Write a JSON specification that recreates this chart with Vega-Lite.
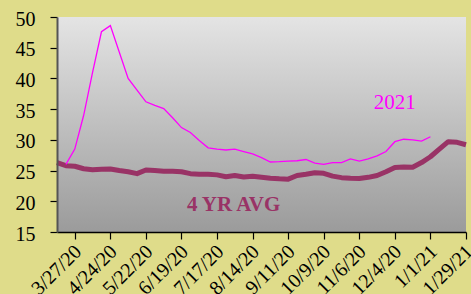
{
  "$schema": "https://vega.github.io/schema/vega-lite/v6.json",
  "width": 409,
  "height": 215,
  "autosize": {"type": "none"},
  "padding": {"left": 57, "top": 17, "right": 5, "bottom": 62},
  "background": "#dfdc8a",
  "config": {
    "view": {"stroke": null},
    "font": "Liberation Serif"
  },
  "data": {
    "values": [
      {"date": "2020-03-13", "avg": 26.3, "y2021": null},
      {"date": "2020-03-20", "avg": 25.8, "y2021": 26.0},
      {"date": "2020-03-27", "avg": 25.7, "y2021": 28.5},
      {"date": "2020-04-03", "avg": 25.3, "y2021": 34.0},
      {"date": "2020-04-10", "avg": 25.15, "y2021": 41.0},
      {"date": "2020-04-17", "avg": 25.2, "y2021": 47.6},
      {"date": "2020-04-24", "avg": 25.25, "y2021": 48.6},
      {"date": "2020-05-01", "avg": 25.0, "y2021": 44.3},
      {"date": "2020-05-08", "avg": 24.8, "y2021": 40.0},
      {"date": "2020-05-15", "avg": 24.5, "y2021": 38.1},
      {"date": "2020-05-22", "avg": 25.1, "y2021": 36.2},
      {"date": "2020-05-29", "avg": 25.0, "y2021": 35.6},
      {"date": "2020-06-05", "avg": 24.9, "y2021": 35.1},
      {"date": "2020-06-12", "avg": 24.9, "y2021": 33.6},
      {"date": "2020-06-19", "avg": 24.8, "y2021": 32.0},
      {"date": "2020-06-26", "avg": 24.5, "y2021": 31.2},
      {"date": "2020-07-03", "avg": 24.4, "y2021": 29.9},
      {"date": "2020-07-10", "avg": 24.4, "y2021": 28.7},
      {"date": "2020-07-17", "avg": 24.3, "y2021": 28.5},
      {"date": "2020-07-24", "avg": 24.0, "y2021": 28.35},
      {"date": "2020-07-31", "avg": 24.2, "y2021": 28.5},
      {"date": "2020-08-07", "avg": 23.95, "y2021": 28.1},
      {"date": "2020-08-14", "avg": 24.07, "y2021": 27.7},
      {"date": "2020-08-21", "avg": 23.9, "y2021": 27.1},
      {"date": "2020-08-28", "avg": 23.75, "y2021": 26.4},
      {"date": "2020-09-04", "avg": 23.65, "y2021": 26.45},
      {"date": "2020-09-11", "avg": 23.6, "y2021": 26.55},
      {"date": "2020-09-18", "avg": 24.2, "y2021": 26.6},
      {"date": "2020-09-25", "avg": 24.4, "y2021": 26.8},
      {"date": "2020-10-02", "avg": 24.65, "y2021": 26.2},
      {"date": "2020-10-09", "avg": 24.55, "y2021": 26.0},
      {"date": "2020-10-16", "avg": 24.1, "y2021": 26.3},
      {"date": "2020-10-23", "avg": 23.85, "y2021": 26.3},
      {"date": "2020-10-30", "avg": 23.75, "y2021": 26.9},
      {"date": "2020-11-06", "avg": 23.7, "y2021": 26.55},
      {"date": "2020-11-13", "avg": 23.9, "y2021": 26.9},
      {"date": "2020-11-20", "avg": 24.2, "y2021": 27.4},
      {"date": "2020-11-27", "avg": 24.8, "y2021": 28.1},
      {"date": "2020-12-04", "avg": 25.5, "y2021": 29.7},
      {"date": "2020-12-11", "avg": 25.6, "y2021": 30.1},
      {"date": "2020-12-18", "avg": 25.55, "y2021": 30.0},
      {"date": "2020-12-25", "avg": 26.3, "y2021": 29.8},
      {"date": "2021-01-01", "avg": 27.25, "y2021": 30.5},
      {"date": "2021-01-08", "avg": 28.5, "y2021": null},
      {"date": "2021-01-15", "avg": 29.7, "y2021": null},
      {"date": "2021-01-22", "avg": 29.6, "y2021": null},
      {"date": "2021-01-29", "avg": 29.2, "y2021": null}
    ]
  },
  "layer": [
    {
      "data": {"values": [{"d1": "2020-03-13", "d2": "2021-01-29", "lo": 15, "hi": 50}]},
      "mark": {
        "type": "rect",
        "fill": {
          "gradient": "linear",
          "x1": 0, "y1": 0, "x2": 0, "y2": 1,
          "stops": [
            {"offset": 0, "color": "#e4e4e4"},
            {"offset": 1, "color": "#9b9b9b"}
          ]
        }
      },
      "encoding": {
        "x": {
          "field": "d1", "type": "temporal",
          "scale": {"type": "utc", "domain": [{"year": 2020, "month": 3, "date": 13, "utc": true}, {"year": 2021, "month": 1, "date": 29, "utc": true}]},
          "axis": {
            "title": null,
            "zindex": 1,
            "tickCount": 40,
            "values": [
              {"year": 2020, "month": 3, "date": 27, "utc": true},
              {"year": 2020, "month": 4, "date": 24, "utc": true},
              {"year": 2020, "month": 5, "date": 22, "utc": true},
              {"year": 2020, "month": 6, "date": 19, "utc": true},
              {"year": 2020, "month": 7, "date": 17, "utc": true},
              {"year": 2020, "month": 8, "date": 14, "utc": true},
              {"year": 2020, "month": 9, "date": 11, "utc": true},
              {"year": 2020, "month": 10, "date": 9, "utc": true},
              {"year": 2020, "month": 11, "date": 6, "utc": true},
              {"year": 2020, "month": 12, "date": 4, "utc": true},
              {"year": 2021, "month": 1, "date": 1, "utc": true},
              {"year": 2021, "month": 1, "date": 29, "utc": true}
            ],
            "labelExpr": "utcFormat(datum.value, '%-m/%-d/%y')",
            "labelAngle": -45,
            "labelAlign": "right",
            "labelBaseline": "top",
            "labelFont": "Liberation Serif",
            "labelFontSize": 20,
            "labelColor": "#000000",
            "labelPadding": 2,
            "labelOffset": -4,
            "labelOverlap": false,
            "labelBound": false,
            "labelFlush": false,
            "tickSize": 7,
            "tickColor": "#000000",
            "tickWidth": 1.2,
            "domainColor": "#000000",
            "domainWidth": 1.5,
            "grid": false
          }
        },
        "x2": {"field": "d2"},
        "y": {
          "field": "lo", "type": "quantitative",
          "scale": {"domain": [15, 50], "nice": false, "zero": false},
          "axis": {
            "title": null,
            "zindex": 1,
            "tickCount": 20,
            "values": [15, 20, 25, 30, 35, 40, 45, 50],
            "labelOverlap": false,
            "labelFont": "Liberation Serif",
            "labelFontSize": 20,
            "labelColor": "#000000",
            "labelPadding": 15,
            "labelOffset": 2,
            "labelFlush": false,
            "tickSize": 7,
            "tickColor": "#000000",
            "tickWidth": 1.2,
            "domainColor": "#555555",
            "domainWidth": 2,
            "grid": false
          }
        },
        "y2": {"field": "hi"}
      }
    },
    {
      "mark": {"type": "line", "color": "#993366", "strokeWidth": 5, "strokeJoin": "round"},
      "encoding": {
        "x": {"field": "date", "type": "temporal"},
        "y": {"field": "avg", "type": "quantitative"}
      }
    },
    {
      "mark": {"type": "line", "color": "#ff00ff", "strokeWidth": 1.3},
      "encoding": {
        "x": {"field": "date", "type": "temporal"},
        "y": {"field": "y2021", "type": "quantitative"}
      }
    },
    {
      "data": {"values": [
        {"d": "2020-12-04", "v": 35.0, "label": "2021", "kind": "a"},
        {"d": "2020-07-30", "v": 18.4, "label": "4 YR AVG", "kind": "b"}
      ]},
      "transform": [{"filter": "datum.kind == 'a'"}],
      "mark": {"type": "text", "color": "#ff00ff", "font": "Liberation Serif", "fontSize": 21, "align": "center", "baseline": "alphabetic"},
      "encoding": {
        "x": {"field": "d", "type": "temporal"},
        "y": {"field": "v", "type": "quantitative"},
        "text": {"field": "label"}
      }
    },
    {
      "data": {"values": [
        {"d": "2020-12-04", "v": 35.0, "label": "2021", "kind": "a"},
        {"d": "2020-07-30", "v": 18.4, "label": "4 YR AVG", "kind": "b"}
      ]},
      "transform": [{"filter": "datum.kind == 'b'"}],
      "mark": {"type": "text", "color": "#993366", "font": "Liberation Serif", "fontSize": 21, "fontWeight": "bold", "align": "center", "baseline": "alphabetic"},
      "encoding": {
        "x": {"field": "d", "type": "temporal"},
        "y": {"field": "v", "type": "quantitative"},
        "text": {"field": "label"}
      }
    }
  ]
}
